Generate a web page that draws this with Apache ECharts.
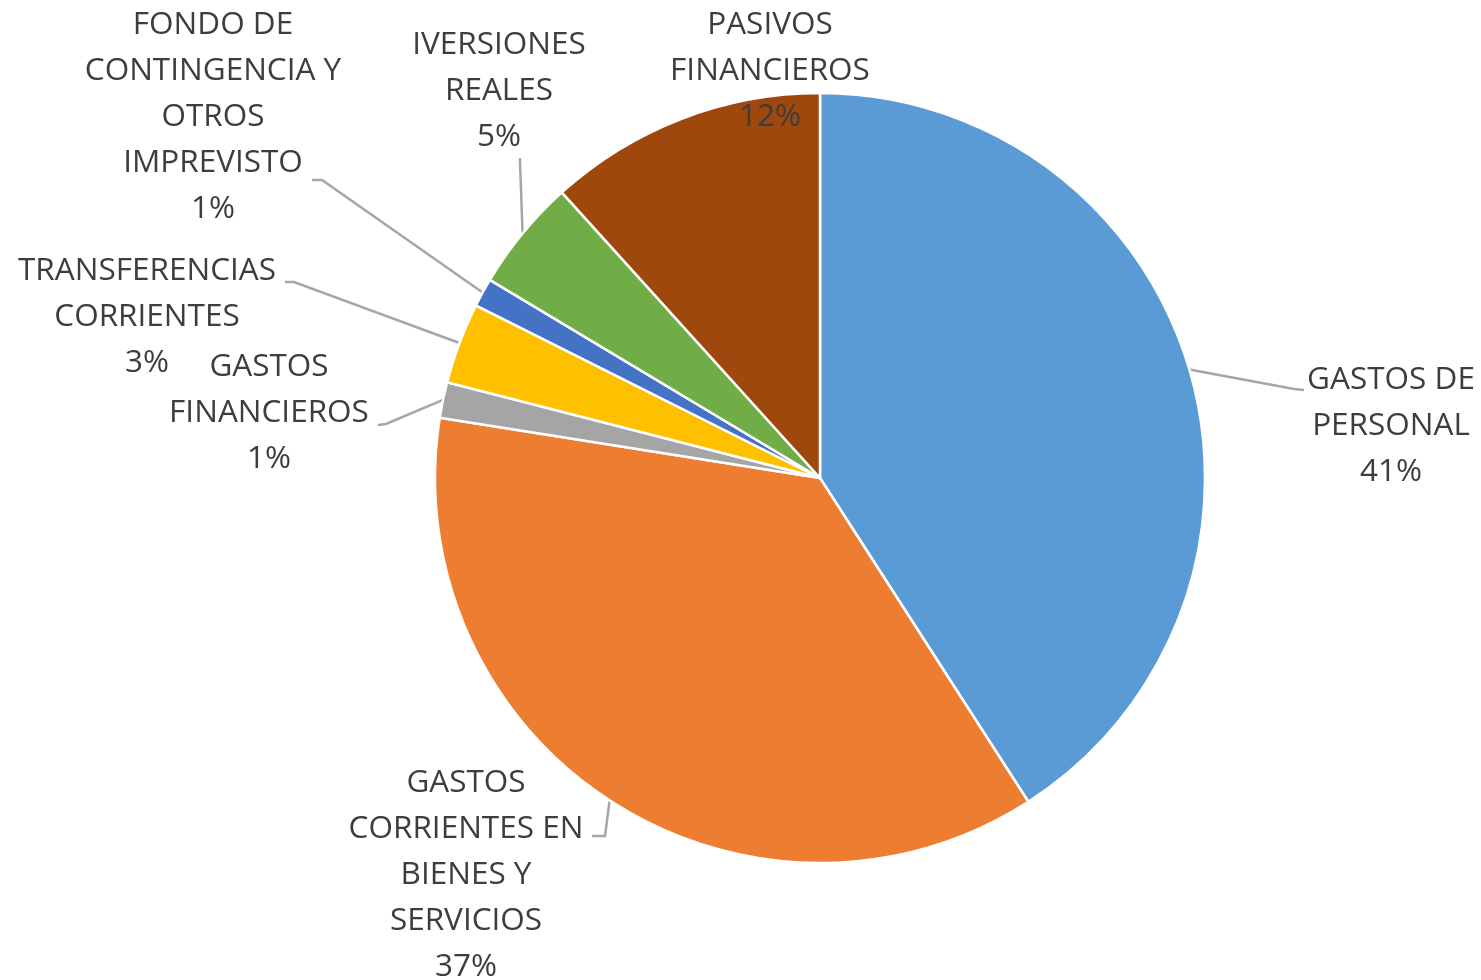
<!DOCTYPE html>
<html>
<head>
<meta charset="utf-8">
<script src="https://cdn.jsdelivr.net/npm/echarts@6/dist/echarts.min.js"></script>
<style>
  html, body { margin: 0; padding: 0; background: #fff; }
  #chart { width: 1481px; height: 980px; }
</style>
</head>
<body>
<div id="chart"></div>
<script>
// categories, clockwise from 12 o'clock
var categories = [
  'GASTOS DE\nPERSONAL',
  'GASTOS\nCORRIENTES EN\nBIENES Y\nSERVICIOS',
  'GASTOS\nFINANCIEROS',
  'TRANSFERENCIAS\nCORRIENTES',
  'FONDO DE\nCONTINGENCIA Y\nOTROS\nIMPREVISTO',
  'IVERSIONES\nREALES',
  'PASIVOS\nFINANCIEROS'
];
var values = [40.9, 36.6, 1.5, 3.4, 1.2, 4.7, 11.7];
var colors = ['#5B9BD5', '#ED7D31', '#A5A5A5', '#FFC000', '#4472C4', '#70AD47', '#9E480E'];

// where each label sits (text center) and the bend points of its leader line
var labelSpots = [
  { x: 1391, y: 426, line: [[1294, 389], [1304, 390]] },
  { x: 466, y: 875, line: [[605, 836], [592, 836]] },
  { x: 269, y: 413, line: [[386, 424], [378, 425]] },
  { x: 147, y: 317, line: [[294, 282], [285, 282]] },
  { x: 213, y: 117, line: [[322, 180], [312, 180]] },
  { x: 499, y: 91, line: [[520, 162], [520, 158]] },
  { x: 770, y: 71, line: null }
];

var myChart = echarts.init(document.getElementById('chart'));

var data = categories.map(function (name, i) {
  var item = { name: name, value: values[i], itemStyle: { color: colors[i] } };
  if (!labelSpots[i].line) {
    item.labelLine = { show: false };
  }
  return item;
});

var option = {
  animation: false,
  series: [
    {
      type: 'pie',
      center: [820, 478],
      radius: 385,
      startAngle: 90,
      clockwise: true,
      percentPrecision: 0,
      avoidLabelOverlap: false,
      itemStyle: { borderColor: '#ffffff', borderWidth: 2.5 },
      label: {
        show: true,
        position: 'outside',
        formatter: '{b}\n{d}%',
        color: '#3d3d3d',
        fontFamily: 'Open Sans',
        fontSize: 31.5,
        lineHeight: 46,
        align: 'center'
      },
      labelLine: {
        show: true,
        length: 10,
        length2: 10,
        lineStyle: { color: '#A6A6A6', width: 2.5 }
      },
      labelLayout: function (params) {
        var spot = labelSpots[params.dataIndex];
        var res = { x: spot.x, y: spot.y, align: 'center', verticalAlign: 'middle' };
        if (spot.line && params.labelLinePoints) {
          res.labelLinePoints = [params.labelLinePoints[0]].concat(spot.line);
        }
        return res;
      },
      data: data
    }
  ]
};

myChart.setOption(option);
</script>
</body>
</html>
